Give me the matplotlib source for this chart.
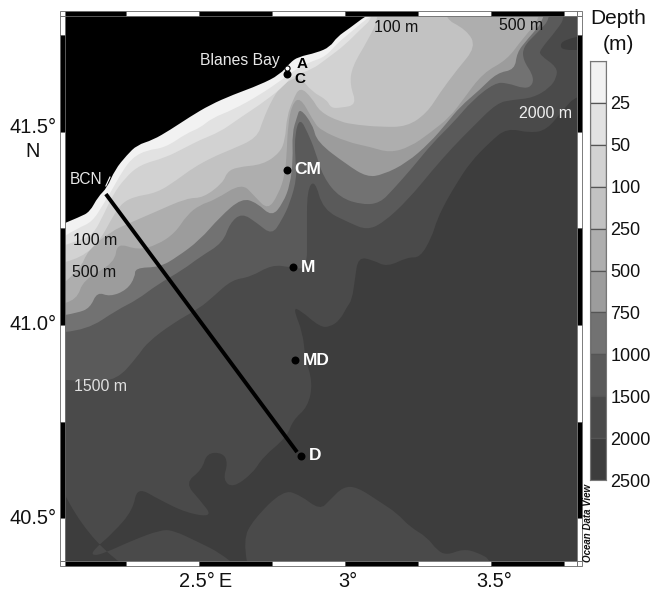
import matplotlib
matplotlib.use('Agg')
import matplotlib.pyplot as plt
from matplotlib.patches import PathPatch, Rectangle
from matplotlib.path import Path

plt.rcParams['font.family'] = ['Liberation Sans', 'DejaVu Sans']

# depth classes of the colour bar
levels = [0, 25, 50, 100, 250, 500, 750, 1000, 1500, 2000, 2500]
greys = ['#f2f2f2', '#e2e2e2', '#d2d2d2', '#c2c2c2', '#aeaeae',
         '#9c9c9c', '#727272', '#5a5a5a', '#4a4a4a', '#3d3d3d']

lon_min, lon_max = 2.041, 3.795
lat_min, lat_max = 40.389, 41.800

# coastline and isobaths (degrees), west edge to top edge
coast_lon = [2.041, 2.092, 2.126, 2.154, 2.185, 2.212, 2.253, 2.288, 2.342, 2.401, 2.469, 2.538,
             2.616, 2.709, 2.777, 2.812, 2.839, 2.904, 2.949, 2.973, 3.017, 3.062, 3.075]
coast_lat = [41.264, 41.280, 41.293, 41.332, 41.355, 41.402, 41.440, 41.466, 41.479, 41.505, 41.539, 41.570,
             41.596, 41.622, 41.648, 41.679, 41.694, 41.705, 41.720, 41.746, 41.769, 41.795, 41.800]

iso25_lon = [2.041, 2.086, 2.134, 2.171, 2.202, 2.236, 2.271, 2.322, 2.384, 2.459, 2.503, 2.545,
             2.616, 2.709, 2.784, 2.829, 2.880, 2.932, 2.976, 3.017, 3.069, 3.092]
iso25_lat = [41.231, 41.251, 41.267, 41.311, 41.350, 41.396, 41.433, 41.453, 41.459, 41.497, 41.510, 41.536,
             41.557, 41.596, 41.635, 41.661, 41.681, 41.694, 41.731, 41.756, 41.790, 41.800]

iso50_lon = [2.041, 2.092, 2.137, 2.178, 2.205, 2.247, 2.298, 2.384, 2.452, 2.503, 2.572, 2.630,
             2.733, 2.795, 2.819, 2.887, 2.942, 3.000, 3.051, 3.103]
iso50_lat = [41.207, 41.220, 41.233, 41.293, 41.337, 41.381, 41.415, 41.433, 41.459, 41.479, 41.500, 41.531,
             41.583, 41.622, 41.645, 41.661, 41.692, 41.725, 41.764, 41.800]

iso100_lon = [2.041, 2.099, 2.161, 2.195, 2.229, 2.274, 2.356, 2.425, 2.480, 2.548, 2.606, 2.699, 2.719,
              2.750, 2.777, 2.812, 2.846, 2.887, 2.938, 2.952, 2.983, 3.041, 3.017, 3.024, 3.079, 3.120]
iso100_lat = [41.163, 41.174, 41.220, 41.267, 41.311, 41.332, 41.342, 41.376, 41.407, 41.435, 41.453, 41.484, 41.531,
              41.583, 41.614, 41.635, 41.642, 41.604, 41.583, 41.562, 41.562, 41.570, 41.622, 41.668, 41.738, 41.800]

iso250_lon = [2.041, 2.092, 2.120, 2.195, 2.271, 2.342, 2.459, 2.514, 2.582, 2.596, 2.630, 2.719, 2.777, 2.795, 2.801,
              2.822, 2.846, 2.887, 2.914, 2.983, 3.041, 3.120, 3.212, 3.281, 3.325, 3.384, 3.449, 3.418, 3.325]
iso250_lat = [41.112, 41.143, 41.194, 41.241, 41.267, 41.290, 41.329, 41.329, 41.368, 41.396, 41.409, 41.415, 41.446, 41.479, 41.539,
              41.583, 41.617, 41.588, 41.552, 41.526, 41.518, 41.513, 41.513, 41.549, 41.601, 41.661, 41.720, 41.764, 41.800]

iso500_lon = [2.041, 2.082, 2.103, 2.212, 2.219, 2.291, 2.356, 2.418, 2.459, 2.503, 2.555, 2.647, 2.692, 2.736, 2.771, 2.795, 2.801,
              2.805, 2.818, 2.846, 2.890, 2.914, 3.007, 3.086, 3.154, 3.223, 3.291, 3.360, 3.404, 3.473, 3.555, 3.610, 3.678]
iso500_lat = [41.057, 41.065, 41.117, 41.161, 41.213, 41.194, 41.207, 41.238, 41.285, 41.311, 41.324, 41.368, 41.332, 41.298, 41.337, 41.389, 41.453,
              41.518, 41.570, 41.591, 41.531, 41.505, 41.474, 41.461, 41.446, 41.461, 41.497, 41.539, 41.583, 41.653, 41.686, 41.743, 41.800]

iso750_lon = [2.041, 2.082, 2.127, 2.151, 2.195, 2.253, 2.281, 2.281, 2.366, 2.425, 2.503, 2.572, 2.647, 2.699, 2.750, 2.788, 2.812, 2.822,
              2.819, 2.836, 2.846, 2.890, 2.904, 3.007, 3.075, 3.130, 3.212, 3.291, 3.349, 3.394, 3.462, 3.521, 3.582, 3.589, 3.623, 3.695]
iso750_lat = [41.026, 41.031, 41.044, 41.086, 41.073, 41.091, 41.124, 41.148, 41.150, 41.176, 41.220, 41.280, 41.329, 41.316, 41.280, 41.316, 41.363, 41.427,
              41.497, 41.539, 41.562, 41.518, 41.474, 41.415, 41.383, 41.389, 41.420, 41.472, 41.523, 41.565, 41.609, 41.653, 41.661, 41.705, 41.738, 41.800]

iso1000_lon = [2.041, 2.116, 2.219, 2.288, 2.356, 2.445, 2.503, 2.582, 2.606, 2.647, 2.699, 2.750, 2.784, 2.812, 2.836, 2.829, 2.829, 2.846, 2.873,
               2.897, 2.925, 2.983, 3.062, 3.120, 3.164, 3.233, 3.301, 3.370, 3.438, 3.514, 3.555, 3.617, 3.644, 3.644, 3.610, 3.610, 3.658, 3.712]
iso1000_lat = [40.982, 40.987, 41.039, 41.065, 41.104, 41.143, 41.176, 41.213, 41.264, 41.290, 41.264, 41.233, 41.272, 41.316, 41.383, 41.435, 41.497, 41.536, 41.497,
               41.453, 41.383, 41.329, 41.311, 41.316, 41.350, 41.409, 41.472, 41.523, 41.583, 41.627, 41.627, 41.611, 41.622, 41.648, 41.686, 41.720, 41.756, 41.800]

iso1500_lon = [2.041, 2.127, 2.219, 2.288, 2.322, 2.411, 2.503, 2.548, 2.613, 2.675, 2.750, 2.812, 2.870, 2.870, 2.870, 2.897, 2.925,
               3.017, 3.075, 3.130, 3.216, 3.301, 3.370, 3.438, 3.521, 3.575, 3.644, 3.702, 3.726, 3.726, 3.668, 3.668, 3.726, 3.757]
iso1500_lat = [40.858, 40.853, 40.858, 40.917, 40.954, 41.005, 41.044, 41.073, 41.117, 41.124, 41.156, 41.150, 41.143, 41.238, 41.350, 41.376, 41.298,
               41.264, 41.246, 41.264, 41.324, 41.402, 41.461, 41.513, 41.575, 41.583, 41.588, 41.614, 41.642, 41.668, 41.699, 41.712, 41.764, 41.800]

# this one runs from the bottom edge to the east edge
iso2000_lon = [2.606, 2.572, 2.503, 2.411, 2.366, 2.274, 2.178, 2.137, 2.134, 2.205, 2.274, 2.288, 2.366, 2.459, 2.548, 2.503, 2.452, 2.510, 2.527,
               2.582, 2.599, 2.582, 2.616, 2.685, 2.719, 2.801, 2.822, 2.873, 2.890, 2.863, 2.856, 2.822, 2.846, 2.914, 2.949, 2.983, 3.007,
               3.024, 3.034, 3.045, 3.096, 3.144, 3.216, 3.257, 3.298, 3.315, 3.349, 3.384, 3.428, 3.497, 3.555, 3.634, 3.692, 3.747, 3.795]
iso2000_lat = [40.389, 40.410, 40.436, 40.469, 40.469, 40.443, 40.410, 40.402, 40.415, 40.461, 40.521, 40.581, 40.547, 40.513, 40.503, 40.547, 40.591, 40.625, 40.669,
               40.669, 40.643, 40.599, 40.578, 40.617, 40.658, 40.710, 40.754, 40.788, 40.850, 40.917, 40.979, 41.044, 41.039, 40.995, 40.995, 41.013, 41.047,
               41.065, 41.117, 41.176, 41.168, 41.150, 41.176, 41.174, 41.228, 41.272, 41.324, 41.368, 41.420, 41.474, 41.510, 41.497, 41.505, 41.557, 41.596]

# rise south of the deep channel
rise_lon = [2.664, 2.651, 2.685, 2.788, 2.846, 2.914, 2.949, 2.993, 3.041, 3.120, 3.178, 3.223, 3.281, 3.315, 3.349, 3.404, 3.452, 3.507]
rise_lat = [40.389, 40.443, 40.495, 40.573, 40.560, 40.521, 40.547, 40.581, 40.581, 40.542, 40.513, 40.477, 40.451, 40.417, 40.404, 40.420, 40.412, 40.389]

# small basin in the north-east corner
basin_lon = [3.795, 3.747, 3.736, 3.754, 3.795]
basin_lat = [41.746, 41.738, 41.720, 41.712, 41.712]

# stations and transect
station_names = ['C', 'CM', 'M', 'MD', 'D']
station_lon = [2.801, 2.801, 2.822, 2.829, 2.849]
station_lat = [41.650, 41.402, 41.150, 40.909, 40.661]
station_a = (2.801, 41.666)
transect_lon = [2.181, 2.836]
transect_lat = [41.339, 40.671]

lon_edges = [2.25, 2.5, 2.75, 3.0, 3.25, 3.5, 3.75]
lat_edges = [40.5, 40.75, 41.0, 41.25, 41.5, 41.75]


def shallow_side(lon, lat):
    return lon + [lon[-1], 1.9, 1.9], lat + [42.0, 42.0, lat[0]]


def fill_rounded(ax, lon, lat, color):
    # quadratic curves through the segment midpoints, so contours are not angular
    pts = list(zip(lon, lat))
    verts = [pts[0]]
    codes = [Path.MOVETO]
    for i in range(1, len(pts) - 1):
        end = pts[i + 1] if i == len(pts) - 2 else ((pts[i][0] + pts[i + 1][0]) / 2, (pts[i][1] + pts[i + 1][1]) / 2)
        verts += [pts[i], end]
        codes += [Path.CURVE3, Path.CURVE3]
    verts.append(pts[0])
    codes.append(Path.CLOSEPOLY)
    ax.add_patch(PathPatch(Path(verts, codes), fc=color, ec='none', lw=0))


fig = plt.figure(figsize=(6.51, 5.93), dpi=100)
ax = fig.add_axes([65 / 651, 32 / 593, 512 / 651, 545 / 593])
ax.set_facecolor(greys[9])

fill_rounded(ax, iso2000_lon + [3.9, 3.9, 1.9, 1.9, iso2000_lon[0]],
             iso2000_lat + [iso2000_lat[-1], 42.0, 42.0, 40.3, 40.3], greys[8])
fill_rounded(ax, rise_lon + [rise_lon[-1], rise_lon[0]], rise_lat + [40.3, 40.3], greys[8])
fill_rounded(ax, basin_lon + [3.9, 3.9], basin_lat + [41.712, 41.746], greys[9])

isobaths = [(iso1500_lon, iso1500_lat, 7), (iso1000_lon, iso1000_lat, 6), (iso750_lon, iso750_lat, 5),
            (iso500_lon, iso500_lat, 4), (iso250_lon, iso250_lat, 3), (iso100_lon, iso100_lat, 2),
            (iso50_lon, iso50_lat, 1), (iso25_lon, iso25_lat, 0)]
for lon, lat, idx in isobaths:
    x, y = shallow_side(lon, lat)
    fill_rounded(ax, x, y, greys[idx])
x, y = shallow_side(coast_lon, coast_lat)
fill_rounded(ax, x, y, 'black')

ax.plot(transect_lon, transect_lat, color='black', lw=2.8, solid_capstyle='butt', zorder=4)
ax.plot([2.195, 2.181], [41.383, 41.360], color='white', lw=0.8, zorder=4)
ax.scatter(station_lon, station_lat, s=33, color='black', linewidths=0, zorder=5)
ax.scatter(*station_a, s=14, color='white', edgecolors='black', linewidths=0.8, zorder=6)

ax.set_xlim(lon_min, lon_max)
ax.set_ylim(lat_min, lat_max)
ax.set_xticks([])
ax.set_yticks([])
for spine in ax.spines.values():
    spine.set_visible(False)

# scale-bar style frame
band_x = 5 / 512
band_y = 5 / 545
xtr = ax.get_xaxis_transform()
ytr = ax.get_yaxis_transform()
xs = [lon_min] + lon_edges + [lon_max]
ys = [lat_max] + lat_edges[::-1] + [lat_min]
for i in range(len(xs) - 1):
    c = 'black' if i % 2 == 0 else 'white'
    for y0 in (-band_y, 1):
        ax.add_patch(Rectangle((xs[i], y0), xs[i + 1] - xs[i], band_y, transform=xtr, fc=c, ec='#666666',
                               lw=0.6, clip_on=False, zorder=7))
for i in range(len(ys) - 1):
    c = 'white' if i % 2 == 0 else 'black'
    for x0 in (-band_x, 1):
        ax.add_patch(Rectangle((x0, ys[i + 1]), band_x, ys[i] - ys[i + 1], transform=ytr, fc=c, ec='#666666',
                               lw=0.6, clip_on=False, zorder=7))
for x0 in (-band_x, 1):
    for y0 in (-band_y, 1):
        ax.add_patch(Rectangle((x0, y0), band_x, band_y, transform=ax.transAxes, fc='white', ec='#666666',
                               lw=0.6, clip_on=False, zorder=7))

# axis labels
for lab, lon in zip(['2.5°\u2009E', '3°', '3.5°'], [2.522, 3.01, 3.512]):
    ax.text(lon, 40.337, lab, ha='center', va='center', fontsize=14.4, color='#111111')
for lab, lat in zip(['41.5°', '41.0°', '40.5°'], [41.512, 41.002, 40.5]):
    ax.text(2.014, lat, lab, ha='right', va='center', fontsize=14.4, color='#111111')
ax.text(1.931, 41.450, 'N', ha='center', va='center', fontsize=14.4, color='#111111')

# map labels
for name, lon, lat in zip(station_names[1:], station_lon[1:], station_lat[1:]):
    ax.text(lon + 0.026, lat, name, color='white', fontweight='bold',
            fontsize=12.5, ha='left', va='center', zorder=8)
ax.text(2.855, 41.677, 'A', color='black', fontweight='bold', fontsize=11, ha='center', va='center', zorder=8)
ax.text(2.846, 41.636, 'C', color='black', fontweight='bold', fontsize=11, ha='center', va='center', zorder=8)

ax.text(2.505, 41.686, 'Blanes Bay', color='#e8e8e8', fontsize=11.3, ha='left', va='center')
ax.text(2.058, 41.376, 'BCN', color='#e8e8e8', fontsize=11.2, ha='left', va='center')
ax.text(2.145, 41.220, '100 m', color='#111111', fontsize=11.4, ha='center', va='center')
ax.text(2.142, 41.135, '500 m', color='#111111', fontsize=11.4, ha='center', va='center')
ax.text(2.161, 40.842, '1500 m', color='#e0e0e0', fontsize=11.4, ha='center', va='center')
ax.text(3.175, 41.770, '100 m', color='#111111', fontsize=11.4, ha='center', va='center')
ax.text(3.602, 41.775, '500 m', color='#111111', fontsize=11.4, ha='center', va='center')
ax.text(3.688, 41.547, '2000 m', color='#f0f0f0', fontsize=11.4, ha='center', va='center')

fig.text(588 / 651, 1 - 523 / 593, 'Ocean Data View', rotation=90, fontsize=7, fontweight='bold',
         fontstyle='italic', ha='center', va='center', color='#111111')

# colour bar, one equal box per depth class
cax = fig.add_axes([590 / 651, 1 - 480 / 593, 16 / 651, 419 / 593])
cax.bar([0] * len(greys), [1] * len(greys), bottom=range(len(greys)), width=1, color=greys,
        edgecolor='#555555', linewidth=0.9)
cax.set_xlim(-0.5, 0.5)
cax.set_ylim(len(greys), 0)
cax.set_xticks([])
cax.yaxis.tick_right()
cax.set_yticks(range(1, len(levels)))
cax.set_yticklabels([str(v) for v in levels[1:]], fontsize=13, color='#111111')
cax.tick_params(axis='y', length=0, pad=3)
for spine in cax.spines.values():
    spine.set_edgecolor('#777777')
    spine.set_linewidth(0.8)
fig.text(618 / 651, 1 - 18 / 593, 'Depth', fontsize=15, ha='center', va='center', color='#111111')
fig.text(618 / 651, 1 - 45 / 593, '(m)', fontsize=15, ha='center', va='center', color='#111111')

fig.savefig('out.png', dpi=100)
